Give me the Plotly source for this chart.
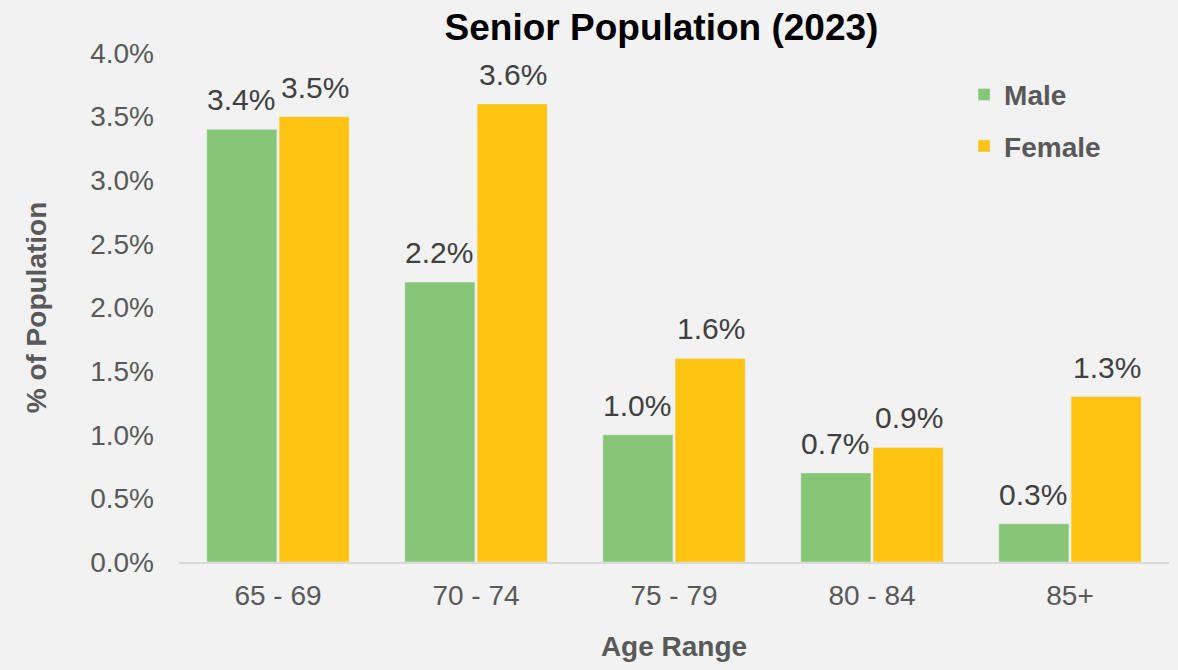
import plotly.graph_objects as go

categories = ["65 - 69", "70 - 74", "75 - 79", "80 - 84", "85+"]
male = [3.4, 2.2, 1.0, 0.7, 0.3]
female = [3.5, 3.6, 1.6, 0.9, 1.3]
y_ticks = [0, 0.5, 1.0, 1.5, 2.0, 2.5, 3.0, 3.5, 4.0]
y_tick_labels = ["0.0%", "0.5%", "1.0%", "1.5%", "2.0%", "2.5%", "3.0%", "3.5%", "4.0%"]

FONT = "Liberation Sans, Arial, sans-serif"

fig = go.Figure()
fig.add_trace(go.Bar(
    name="<b>Male</b>", x=categories, y=male, marker_color="#87C677",
    legendgroup="m",
))
fig.add_trace(go.Bar(
    name="<b>Female</b>", x=categories, y=female, marker_color="#FFC411",
    legendgroup="f",
))

# data labels placed above the bars, from the data values
for vals, xs in ((male, -37), (female, 37)):
    for cat, v in zip(categories, vals):
        fig.add_annotation(
            x=cat, y=v, xref="x", yref="y", text=f"{v:.1f}%",
            showarrow=False, yanchor="bottom", xanchor="center",
            xshift=xs, yshift=11,
            font=dict(size=30, color="#404040", family=FONT),
        )

fig.update_layout(
    width=1178, height=670,
    paper_bgcolor="#F2F2F2", plot_bgcolor="#F2F2F2",
    margin=dict(l=179, r=9, t=53, b=108),
    barmode="group", bargap=0.27, bargroupgap=0.03,
    font=dict(family=FONT, color="#595959", size=28),
    title=dict(text="<b>Senior Population (2023)</b>", x=661.5 / 1178, xanchor="center",
               y=1 - 27 / 670, yanchor="middle", font=dict(size=37, color="#000000", family=FONT)),
    legend=dict(x=0.793, y=0.967, xanchor="left", yanchor="top",
                font=dict(size=28, color="#595959", family=FONT),
                tracegroupgap=12, bgcolor="rgba(0,0,0,0)"),
    showlegend=True,
)
fig.update_xaxes(
    title=dict(text="<b>Age Range</b>", font=dict(size=28, color="#595959"), standoff=27),
    showline=True, linecolor="#D9D9D9", linewidth=2,
    tickfont=dict(size=28, color="#595959"), ticks="", showgrid=False,
    ticklabelstandoff=7,
)
fig.update_yaxes(
    title=dict(text="<b>% of Population</b>", font=dict(size=28, color="#595959"), standoff=35),
    range=[0, 4.0], tickvals=y_ticks, ticktext=y_tick_labels,
    tickfont=dict(size=28, color="#595959"), showgrid=False, zeroline=False,
    ticks="", ticklabelstandoff=24,
)

fig.write_html("out.html", config={"displayModeBar": False},
               post_script="document.body.style.margin='0';document.body.style.overflow='hidden';")
